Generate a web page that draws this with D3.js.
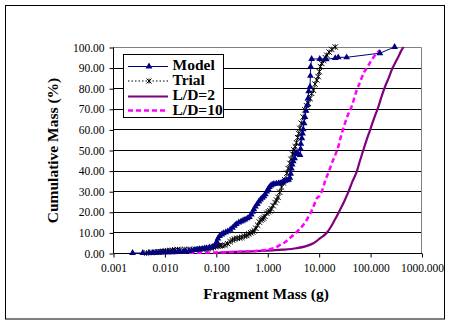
<!DOCTYPE html>
<html><head><meta charset="utf-8">
<script src="https://cdn.jsdelivr.net/npm/d3@7"></script>
<style>body{margin:0;background:#fff;}svg{display:block;} svg text{font-family:"Liberation Serif","Times New Roman","DejaVu Serif",serif;}</style>
</head><body>
<svg id="c" width="451" height="325"></svg>
<script>
const xTicks = [0.001, 0.01, 0.1, 1, 10, 100, 1000];
const yTicks = [0,10,20,30,40,50,60,70,80,90,100];
const seriesNames = ["Model","Trial","L/D=2","L/D=10"];

const modelMass = [0.0024,0.0038,0.005,0.006,0.007,0.008,0.009,0.010,0.012,0.014,0.016,0.018,0.02,0.023,0.026,0.03,0.034,0.038,0.043,0.048,0.054,0.06,0.066,0.075,0.085,0.095,0.1,0.105,0.11,0.118,0.13,0.14,0.155,0.17,0.19,0.21,0.23,0.25,0.28,0.31,0.34,0.37,0.41,0.45,0.49,0.52,0.55,0.59,0.64,0.69,0.74,0.8,0.86,0.92,0.98,1.04,1.1,1.18,1.25,1.35,1.5,1.65,1.78,1.95,2.05,2.2,2.4,2.6,2.75,2.85,2.95,3.05,3.2,3.4,3.5,3.7,4.0,4.35,4.45,4.5,4.7,4.85,5.0,5.2,5.4,5.7,6.0,6.2,6.4,6.8,6.9,7.0,7.3,10.5,14,21,24,35,155,300];
const modelPct  = [0,0,0.1,0.1,0.2,0.2,0.3,0.3,0.4,0.4,0.5,0.5,0.5,0.6,0.8,1.0,1.2,1.4,1.6,1.8,2.0,2.2,2.4,2.7,3.0,3.5,4.5,5.5,7.0,8.2,9.0,9.6,10.0,10.5,11.3,12.2,13.2,14.0,14.8,15.3,15.8,16.2,16.8,17.5,18.7,20.0,21.2,22.5,23.8,25.0,26.0,26.8,27.5,28.5,29.8,31.0,32.0,32.8,33.2,33.5,33.7,33.8,33.9,34.3,34.6,35.0,35.3,35.5,36.5,38.5,41.0,43.0,44.5,46.0,48.4,48.6,48.0,47.6,50.5,53.0,55.7,58.0,60.0,63.0,66.0,69.0,71.8,75.0,78.5,80.7,86.0,90.5,94.2,94.2,94.0,94.6,95,95,97,100];

const trialMass = [0.0045,0.0055,0.0065,0.0075,0.0085,0.0095,0.0105,0.0115,0.013,0.0145,0.016,0.018,0.02,0.025,0.03,0.04,0.05,0.06,0.07,0.08,0.09,0.1,0.11,0.12,0.13,0.15,0.17,0.19,0.21,0.23,0.26,0.29,0.32,0.36,0.40,0.44,0.48,0.52,0.56,0.6,0.65,0.7,0.75,0.8,0.85,0.9,0.98,1.05,1.13,1.2,1.3,1.42,1.52,1.62,1.75,1.9,2.05,2.2,2.4,2.55,2.76,2.9,3.1,3.3,3.5,3.7,3.9,4.1,4.3,4.6,5.0,5.4,5.8,6.3,6.8,7.3,7.9,8.5,9.2,9.8,10.3,10.8,11.5,12.5,13.5,14.4,16,18,21];
const trialPct  = [0,0.2,0.3,0.5,0.6,0.8,0.9,1.0,1.1,1.3,1.5,1.6,1.6,1.7,1.7,1.8,1.9,2.0,2.2,2.4,2.8,3.2,3.4,3.5,3.6,3.8,4.5,5.5,6.3,6.8,7.1,7.3,7.6,8.2,8.5,9.2,9.8,10.2,10.8,12.0,13.5,15.0,16.0,16.5,17.0,17.8,19.3,20.0,20.5,21.5,23.0,24.5,25.7,27.0,29.5,32.0,34.0,35.5,38.7,41.0,43.5,45.5,48.0,50.0,51.6,53.5,56.0,58.0,60.5,63.0,66.0,69.5,71.5,72.7,75.0,77.5,79.0,82.0,84.0,85.6,88.0,90.5,92.0,93.5,94.8,96.0,97.5,98.8,100];

const ld2Mass = [0.1,0.22,0.5,1.0,2.0,3.7,5.5,7.9,10.6,14.4,16.6,20,26,32,38,45,55,64,74,86,100,120,145,170,195,230,263,310,355,400,447];
const ld2Pct  = [0,0.5,0.8,1.2,1.6,2.3,3.2,4.7,7.1,9.8,12.0,15.5,20.9,25.5,29.8,34.5,39.5,45.0,50.0,55.0,59.7,65.5,71.0,76.5,80.7,85.0,88.8,92.5,95.3,98.0,100];

const ld10Mass = [0.005,0.03,0.1,0.3,0.6,0.98,1.4,1.78,2.2,2.76,3.5,4.2,5.0,6.0,7.0,7.9,9.2,10.6,12.3,13.5,15.5,18,21,24,26,29,32.5,37,43.6,49,55,64,74,90,107,130,155];
const ld10Pct  = [0,0.1,0.3,0.6,1.0,1.5,2.5,3.9,5.2,7.3,9.5,11.5,13.6,16.5,19.5,22.5,26.5,28.0,32.0,35.4,39.0,43.5,47.6,51.5,54.9,59.0,63.0,67.0,71.0,75.0,79.0,83.0,87.0,90.5,93.7,96.5,98.5];

const svg = d3.select("#c");
svg.append("rect").attr("x",0).attr("y",0).attr("width",451).attr("height",325).attr("fill","#fff");
svg.append("rect").attr("x",5.5).attr("y",5.5).attr("width",439).attr("height",313.5)
  .attr("fill","none").attr("stroke","#000").attr("stroke-width",1);

const L=113, R=421.5, T=47, B=253;
const x = d3.scaleLog().domain([0.001,1000]).range([L,R]);
const y = d3.scaleLinear().domain([0,100]).range([B,T]);

svg.append("g").selectAll("line").data(yTicks.filter(d=>d>0 && d<100)).join("line")
  .attr("x1",L).attr("x2",R).attr("y1",d=>Math.round(y(d))+0.5).attr("y2",d=>Math.round(y(d))+0.5)
  .attr("stroke","#000").attr("stroke-width",1);
svg.append("path").attr("d",`M${L},${T+0.5}H${R}V${B}`).attr("fill","none").attr("stroke","#808080").attr("stroke-width",1);

const yAxis = d3.axisLeft(y).tickValues(yTicks).tickFormat(d3.format(".2f")).tickSize(4).tickPadding(5);
const gy = svg.append("g").attr("transform",`translate(${L+0.5},0.5)`).call(yAxis);
const xAxis = d3.axisBottom(x).tickValues(xTicks).tickFormat(d3.format(".3f")).tickSize(4).tickPadding(6);
const gx = svg.append("g").attr("transform",`translate(0.5,${B+0.5})`).call(xAxis);
[gx,gy].forEach(g=>{
  g.attr("font-family",null).attr("font-size",null);
  g.select(".domain").attr("stroke","#000");
  g.selectAll(".tick line").attr("stroke","#000");
  g.selectAll("text").style("font-size","11.5px").attr("fill","#000");
});
gx.select(".domain").attr("d",`M${L},0H${R}`);
gy.select(".domain").attr("d",`M0,${B}V${T}`);

svg.append("text").attr("x",266).attr("y",299).attr("text-anchor","middle")
  .style("font-weight","bold").style("font-size","15.5px").text("Fragment Mass (g)");
svg.append("text").attr("transform","translate(58,150.5) rotate(-90)").attr("text-anchor","middle")
  .style("font-weight","bold").style("font-size","15.5px").text("Cumulative Mass (%)");

const line = d3.line().x(d=>x(d[0])).y(d=>y(d[1]));
const zip = (a,b)=>a.map((v,i)=>[v,b[i]]);
const model = zip(modelMass,modelPct), trial = zip(trialMass,trialPct),
      ld2 = zip(ld2Mass,ld2Pct), ld10 = zip(ld10Mass,ld10Pct);

const plot = svg.append("g");
plot.append("path").datum(ld2).attr("d",line.curve(d3.curveMonotoneX)).attr("fill","none").attr("stroke","#800080").attr("stroke-width",2.2);
plot.append("path").datum(ld10).attr("d",line.curve(d3.curveMonotoneX)).attr("fill","none").attr("stroke","#FF00FF").attr("stroke-width",2.5).attr("stroke-dasharray","5,3");
line.curve(d3.curveLinear);

function starMarker(g, cx, cy, s){
  g.append("path").attr("d",`M${cx-s},${cy-s}L${cx+s},${cy+s}M${cx-s},${cy+s}L${cx+s},${cy-s}M${cx},${cy-s}V${cy+s}`)
    .attr("stroke","#000").attr("stroke-width",1).attr("fill","none");
}
const tri = d3.symbol().type(d3.symbolTriangle).size(20);

plot.append("path").datum(trial).attr("d",line).attr("fill","none").attr("stroke","#000").attr("stroke-width",1).attr("stroke-dasharray","1.5,2");
const tg = plot.append("g");
trial.forEach(d=>starMarker(tg, x(d[0]), y(d[1]), 2.7));
plot.append("path").datum(model).attr("d",line).attr("fill","none").attr("stroke","#000080").attr("stroke-width",1);
plot.append("g").selectAll("path").data(model).join("path")
  .attr("transform",d=>`translate(${x(d[0])},${y(d[1])})`).attr("d",tri).attr("fill","#000080");

const lg = svg.append("g");
lg.append("rect").attr("x",123.5).attr("y",54.5).attr("width",100).attr("height",63).attr("fill","#fff").attr("stroke","#000").attr("stroke-width",1);
const ly = [66.5, 81, 96.5, 110.5];
lg.append("line").attr("x1",128).attr("x2",168).attr("y1",ly[0]).attr("y2",ly[0]).attr("stroke","#000080").attr("stroke-width",1);
lg.append("path").attr("transform",`translate(149,${ly[0]})`).attr("d",tri).attr("fill","#000080");
lg.append("line").attr("x1",128).attr("x2",168).attr("y1",ly[1]).attr("y2",ly[1]).attr("stroke","#000").attr("stroke-width",1).attr("stroke-dasharray","1.5,2");
starMarker(lg,149,ly[1],2.5);
lg.append("line").attr("x1",128).attr("x2",168).attr("y1",ly[2]).attr("y2",ly[2]).attr("stroke","#800080").attr("stroke-width",2.2);
lg.append("line").attr("x1",128).attr("x2",168).attr("y1",ly[3]).attr("y2",ly[3]).attr("stroke","#FF00FF").attr("stroke-width",2.5).attr("stroke-dasharray","5,3");
lg.selectAll("text.lt").data(seriesNames).join("text").attr("class","lt")
  .attr("x",172.5).attr("y",(d,i)=>[69.8,85,100.3,114.5][i])
  .style("font-weight","bold").style("font-size","15.5px").attr("fill","#000").text(d=>d);
</script>
</body></html>
